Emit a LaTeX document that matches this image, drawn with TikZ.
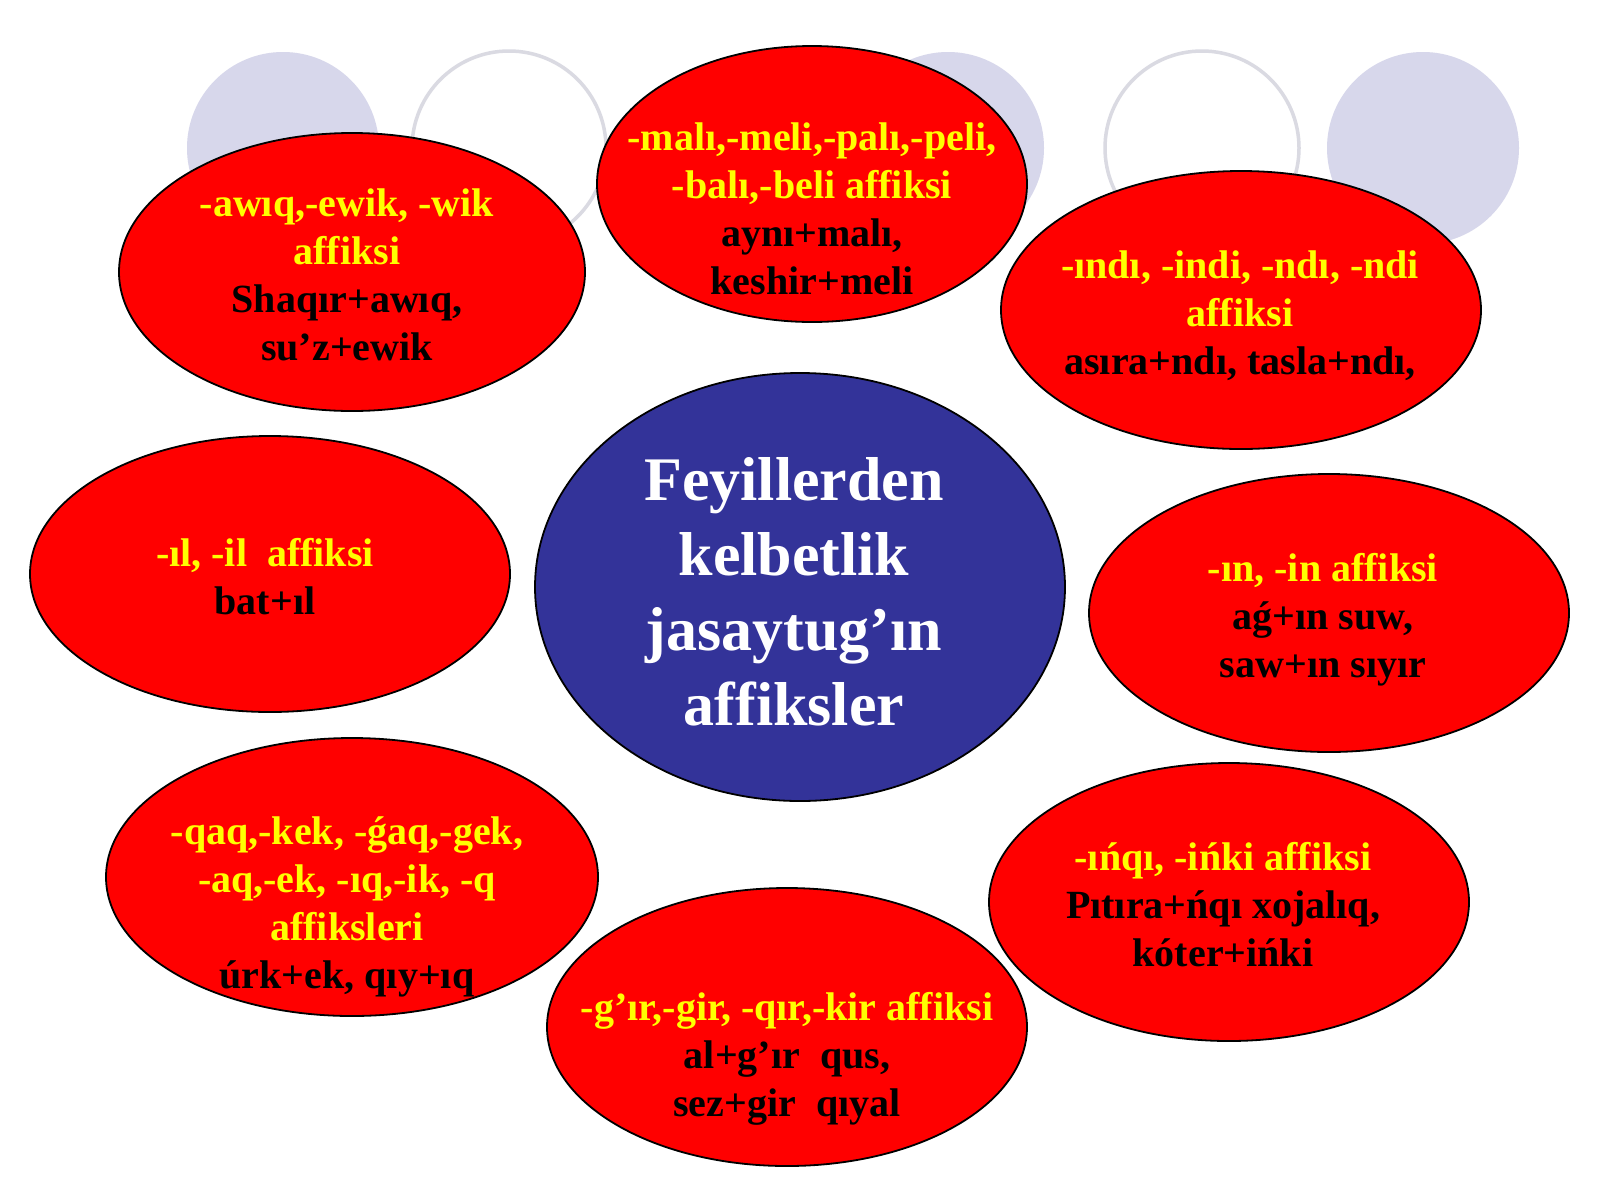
\documentclass[tikz,border=0pt]{standalone}
\usepackage{fontspec}
\setmainfont{Liberation Serif}
\usetikzlibrary{shapes.geometric}
\definecolor{lav}{RGB}{215,215,235}
\definecolor{ringgray}{RGB}{218,218,226}
\definecolor{cblue}{RGB}{51,51,153}
\definecolor{cyel}{RGB}{255,255,0}
\tikzset{
  bgdisc/.style={circle, fill=lav, minimum size=192pt, inner sep=0pt},
  bgring/.style={circle, draw=ringgray, line width=3.5pt, fill=white, minimum size=194pt, inner sep=0pt},
  redell/.style={ellipse, draw=black, line width=1.8pt, fill=red, inner sep=0pt},
  txt/.style={align=center, font=\bfseries\fontsize{40}{48}\selectfont},
  ctxt/.style={align=center, text=white, font=\bfseries\fontsize{62}{75}\selectfont},
}
\begin{document}
\begin{tikzpicture}[x=1pt,y=-1pt]
\useasboundingbox[fill=white] (0,0) rectangle (1600,1200);
% background circles
\node[bgdisc] (d1) at (283,148) {};
\node[bgring] (r1) at (509,148) {};
\node[bgdisc] (d2) at (948,148) {};
\node[bgring] (r2) at (1202,148) {};
\node[bgdisc] (d3) at (1423,148) {};
% red ellipses
\node[redell, minimum width=466pt, minimum height=278pt] (A) at (352,272) {};
\node[redell, minimum width=430pt, minimum height=276pt] (B) at (812,184) {};
\node[redell, minimum width=480pt, minimum height=278pt] (C) at (1241,310) {};
\node[redell, minimum width=480pt, minimum height=276pt] (D) at (270,574) {};
\node[ellipse, draw=black, line width=1.8pt, fill=cblue, inner sep=0pt, minimum width=530pt, minimum height=428pt] (M) at (800,587) {};
\node[redell, minimum width=480pt, minimum height=278pt] (E) at (1329,613) {};
\node[redell, minimum width=492pt, minimum height=278pt] (F) at (352,877) {};
\node[redell, minimum width=480pt, minimum height=278pt] (G) at (1229,902) {};
\node[redell, minimum width=480pt, minimum height=278pt] (H) at (787,1027) {};
% texts
\node[txt] (tA) at (347,275) {\textcolor{cyel}{-awıq,-ewik, -wik}\\\textcolor{cyel}{affiksi}\\Shaqır+awıq,\\su’z+ewik};
\node[txt] (tB) at (812,209) {\textcolor{cyel}{-malı,-meli,-palı,-peli,}\\\textcolor{cyel}{-balı,-beli affiksi}\\aynı+malı,\\keshir+meli};
\node[txt] (tC) at (1240,316) {\textcolor{cyel}{-ındı, -indi, -ndı, -ndi}\\\textcolor{cyel}{affiksi}\\asıra+ndı, tasla+ndı,};
\node[txt] (tD) at (265,577) {\textcolor{cyel}{-ıl, -il\ \ affiksi}\\bat+ıl};
\node[txt] (tE) at (1323,620) {\textcolor{cyel}{-ın, -in affiksi}\\aǵ+ın suw,\\saw+ın sıyır};
\node[txt] (tF) at (347,907) {\textcolor{cyel}{-qaq,-kek, -ǵaq,-gek,}\\\textcolor{cyel}{-aq,-ek, -ıq,-ik, -q}\\\textcolor{cyel}{affiksleri}\\úrk+ek, qıy+ıq};
\node[txt] (tG) at (1223,905) {\textcolor{cyel}{-ıńqı, -ińki affiksi}\\Pıtıra+ńqı xojalıq,\\kóter+ińki};
\node[txt] (tH) at (787,1059) {\textcolor{cyel}{-g’ır,-gir, -qır,-kir affiksi}\\al+g’ır\ \ qus,\\sez+gir\ \ qıyal};
\node[ctxt] (tM) at (794,592) {Feyillerden\\kelbetlik\\jasaytug’ın\\affiksler};
\end{tikzpicture}
\end{document}
